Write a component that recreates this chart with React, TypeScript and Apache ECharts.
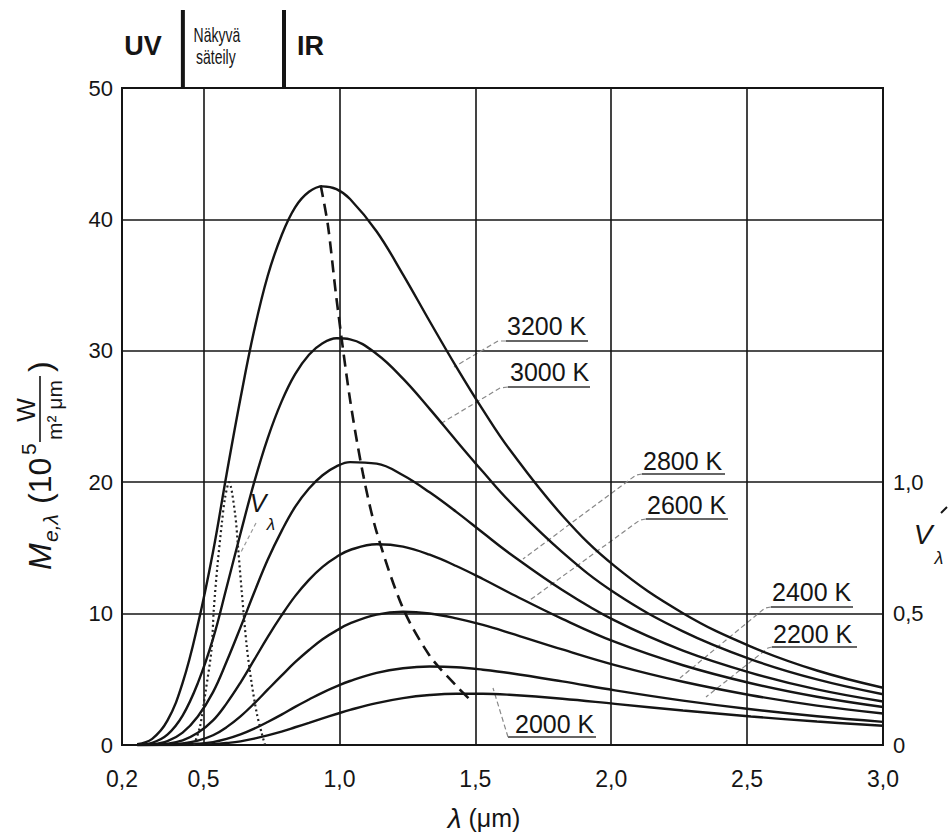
import React, { useEffect, useRef } from 'react';
import * as echarts from 'echarts';

const FONT = '"Liberation Sans", Arial, Helvetica, sans-serif';
const INK = '#151515';

// Wavelength samples (µm) shared by the Planck curves
const lambda = [0.256, 0.311, 0.367, 0.423, 0.479, 0.535, 0.585, 0.636, 0.686, 0.736, 0.787, 0.837, 0.888, 0.938, 0.989, 1.039, 1.137, 1.234, 1.332, 1.43, 1.528, 1.625, 1.82, 2.014, 2.264, 2.514, 2.757, 3.0];

// Spectral exitance M_e,λ (10^5 W/(m² µm))
const m3200 = [0.06, 0.47, 1.85, 4.72, 9.16, 14.71, 20.63, 26.39, 31.52, 35.69, 38.78, 40.92, 42.1, 42.51, 42.3, 41.55, 39.08, 35.8, 32.25, 28.78, 25.5, 22.52, 17.47, 13.59, 10.03, 7.49, 5.67, 4.36];
const m3000 = [0.02, 0.17, 0.79, 2.24, 4.71, 8.09, 12.01, 16.1, 19.97, 23.34, 26.13, 28.22, 29.7, 30.57, 30.95, 30.87, 29.76, 27.88, 25.58, 23.16, 20.79, 18.55, 14.68, 11.57, 8.65, 6.52, 4.99, 3.86];
const m2800 = [0, 0.05, 0.29, 0.94, 2.17, 4.02, 6.35, 8.95, 11.59, 14.1, 16.28, 18.12, 19.52, 20.53, 21.2, 21.53, 21.41, 20.53, 19.23, 17.74, 16.15, 14.6, 11.8, 9.46, 7.18, 5.49, 4.23, 3.31];
const m2600 = [0, 0.02, 0.1, 0.36, 0.93, 1.87, 3.17, 4.75, 6.47, 8.21, 9.86, 11.33, 12.57, 13.56, 14.31, 14.84, 15.28, 15.1, 14.48, 13.62, 12.63, 11.59, 9.6, 7.84, 6.07, 4.7, 3.67, 2.89];
const m2400 = [0, 0, 0.03, 0.11, 0.33, 0.74, 1.36, 2.18, 3.15, 4.21, 5.28, 6.3, 7.23, 8.05, 8.71, 9.25, 9.92, 10.14, 10.01, 9.64, 9.14, 8.54, 7.27, 6.08, 4.81, 3.79, 3.0, 2.4];
const m2200 = [0, 0, 0, 0.03, 0.09, 0.22, 0.46, 0.8, 1.24, 1.75, 2.31, 2.9, 3.46, 3.99, 4.46, 4.87, 5.49, 5.84, 5.97, 5.92, 5.73, 5.48, 4.84, 4.16, 3.38, 2.72, 2.19, 1.76];
const m2000 = [0, 0, 0, 0, 0.02, 0.06, 0.15, 0.28, 0.48, 0.73, 1.02, 1.35, 1.69, 2.03, 2.36, 2.67, 3.19, 3.57, 3.8, 3.9, 3.9, 3.82, 3.52, 3.13, 2.63, 2.17, 1.79, 1.46];

const temperatures = ['3200 K', '3000 K', '2800 K', '2600 K', '2400 K', '2200 K', '2000 K'];
const curves = [m3200, m3000, m2800, m2600, m2400, m2200, m2000];

// Locus of the maxima (Wien displacement), dashed
const wienLambda = [0.931, 0.958, 0.989, 1.039, 1.088, 1.137, 1.234, 1.332, 1.43, 1.488];
const wienM = [42.6, 39.5, 34.0, 26.3, 20.5, 16.2, 10.4, 6.8, 4.5, 3.3];

// Eye sensitivity V_λ (right axis), dotted
const vLambda = [0.465, 0.487, 0.507, 0.529, 0.538, 0.551, 0.567, 0.579, 0.594, 0.616, 0.628, 0.64, 0.659, 0.677, 0.696, 0.714, 0.726];
const vValues = [0, 0.07, 0.2, 0.36, 0.52, 0.68, 0.84, 0.94, 1.0, 0.88, 0.74, 0.59, 0.375, 0.235, 0.12, 0.045, 0];

// Axes
const xTickValues = [0.2, 0.5, 1.0, 1.5, 2.0, 2.5, 3.0];
const xGridValues = [0.5, 1.0, 1.5, 2.0, 2.5];
const rightTickMax = 1.0;
const bandEdges = [0.424, 0.796]; // UV | visible | IR

// Temperature annotations (layout only)
const tempLabels = [
  { text: '3200 K', x: 507, y: 326, ul: [506, 588, 341], leader: [[506, 341], [498, 341], [454, 367]] },
  { text: '3000 K', x: 510, y: 372, ul: [508, 590, 387], leader: [[508, 387], [500, 388], [440, 424]] },
  { text: '2800 K', x: 643, y: 461, ul: [642, 725, 474], leader: [[642, 474], [636, 475], [523, 559]] },
  { text: '2600 K', x: 647, y: 505, ul: [646, 728, 519], leader: [[646, 519], [640, 520], [530, 600]] },
  { text: '2400 K', x: 772, y: 592, ul: [771, 853, 607], leader: [[771, 607], [765, 608], [680, 678]] },
  { text: '2200 K', x: 773, y: 634, ul: [772, 857, 647], leader: [[772, 647], [768, 648], [706, 697]] },
  { text: '2000 K', x: 515, y: 724, ul: [508, 596, 737], leader: [[508, 737], [493, 688]] },
];

const commaFmt = (v: number) => (v === 0 ? '0' : v.toFixed(1).replace('.', ','));

function buildGraphics(xa: number, xb: number, top: number) {
  const g: any[] = [];
  // Top band separators
  [xa, xb].forEach((x) => {
    g.push({ type: 'line', shape: { x1: x, y1: 10, x2: x, y2: top }, style: { stroke: INK, lineWidth: 4 } });
  });
  g.push({ type: 'text', x: xa - 21, y: 46, style: { text: 'UV', fontSize: 27, fontWeight: 'bold', fontFamily: FONT, fill: INK, align: 'right', verticalAlign: 'middle' } });
  g.push({ type: 'text', x: xa + 34, y: 35, scaleX: 0.7, style: { text: 'Näkyvä', fontSize: 20, fontFamily: FONT, fill: INK, align: 'center', verticalAlign: 'middle' } });
  g.push({ type: 'text', x: xa + 33, y: 57, scaleX: 0.7, style: { text: 'säteily', fontSize: 20, fontFamily: FONT, fill: INK, align: 'center', verticalAlign: 'middle' } });
  g.push({ type: 'text', x: xb + 13, y: 46, style: { text: 'IR', fontSize: 27, fontWeight: 'bold', fontFamily: FONT, fill: INK, align: 'left', verticalAlign: 'middle' } });

  // Temperature labels
  tempLabels.forEach((l) => {
    g.push({ type: 'text', x: l.x, y: l.y, style: { text: l.text, fontSize: 25, fontFamily: FONT, fill: INK, align: 'left', verticalAlign: 'middle' } });
    g.push({ type: 'line', shape: { x1: l.ul[0], y1: l.ul[2], x2: l.ul[1], y2: l.ul[2] }, style: { stroke: '#333', lineWidth: 1.5 } });
    g.push({ type: 'polyline', shape: { points: l.leader }, style: { stroke: '#888', lineWidth: 1.2, lineDash: [5, 3], fill: null } });
  });

  // V_λ label inside the plot
  g.push({ type: 'text', x: 258, y: 503, style: { text: 'V', fontSize: 25, fontStyle: 'italic', fontFamily: FONT, fill: INK, align: 'center', verticalAlign: 'middle' } });
  g.push({ type: 'text', x: 271, y: 524, style: { text: 'λ', fontSize: 17, fontStyle: 'italic', fontFamily: FONT, fill: INK, align: 'center', verticalAlign: 'middle' } });
  g.push({ type: 'line', shape: { x1: 256, y1: 523, x2: 241, y2: 552 }, style: { stroke: '#999', lineWidth: 1.2, lineDash: [4, 3] } });

  // Right axis title V_λ
  g.push({ type: 'text', x: 923, y: 534, style: { text: 'V', fontSize: 28, fontStyle: 'italic', fontFamily: FONT, fill: INK, align: 'center', verticalAlign: 'middle' } });
  g.push({ type: 'text', x: 939, y: 558, style: { text: 'λ', fontSize: 18, fontStyle: 'italic', fontFamily: FONT, fill: INK, align: 'center', verticalAlign: 'middle' } });
  g.push({ type: 'line', shape: { x1: 941, y1: 513, x2: 947, y2: 507 }, style: { stroke: INK, lineWidth: 2 } });

  // X axis title
  g.push({
    type: 'text', x: 484, y: 818,
    style: {
      text: '{i|λ} (μm)', fontSize: 25, fontFamily: FONT, fill: INK, align: 'center', verticalAlign: 'middle',
      rich: { i: { fontSize: 28, fontStyle: 'italic', fontFamily: FONT, fill: INK } },
    },
  });

  // Y axis title (rotated, reads bottom to top)
  const t = (text: string, x: number, y: number, fontSize: number, extra: any = {}) => ({
    type: 'text', x, y,
    style: { text, fontSize, fontFamily: FONT, fill: INK, align: 'left', verticalAlign: 'middle', ...extra },
  });
  g.push({
    type: 'group', x: 40, y: 458, rotation: Math.PI / 2,
    children: [
      t('M', -112, 0, 32, { fontStyle: 'italic' }),
      t('e,λ', -84, 10, 21, { fontStyle: 'italic' }),
      t('(10', -46, 0, 32),
      t('5', 3, -12, 21),
      t('W', 48, -14, 25, { align: 'center' }),
      { type: 'line', shape: { x1: 16, y1: 0, x2: 82, y2: 0 }, style: { stroke: INK, lineWidth: 1.6 } },
      t('m² μm', 48, 14, 21, { align: 'center' }),
      t(')', 86, 0, 32),
    ],
  });
  return g;
}

export default function App() {
  const ref = useRef<HTMLDivElement>(null);
  useEffect(() => {
    document.body.style.margin = '0';
    const chart = echarts.init(ref.current!, null, { renderer: 'svg' });
    const axisLineStyle = { color: INK, width: 2 };
    const labelStyle = { fontSize: 22, color: INK, fontFamily: FONT };

    const series: any[] = curves.map((vals, i) => ({
      type: 'line',
      name: temperatures[i],
      data: lambda.map((l, j) => [l, vals[j]]),
      symbol: 'none',
      smooth: 0.4,
      lineStyle: { color: INK, width: 2.4 },
      silent: true,
      z: 4,
    }));
    series.push({
      type: 'line',
      name: 'λmax',
      data: wienLambda.map((l, j) => [l, wienM[j]]),
      symbol: 'none',
      smooth: 0.3,
      lineStyle: { color: INK, width: 2.6, type: [12, 7] },
      silent: true,
      z: 5,
      markLine: {
        silent: true,
        symbol: ['none', 'none'],
        label: { show: false },
        lineStyle: { color: INK, width: 1.6, type: 'solid' },
        data: xGridValues.map((v) => ({ xAxis: v })),
        z: 1,
      },
    });
    series.push({
      type: 'line',
      name: 'V_λ',
      yAxisIndex: 1,
      data: vLambda.map((l, j) => [l, vValues[j]]),
      symbol: 'none',
      smooth: 0.3,
      lineStyle: { color: '#222', width: 2.2, type: [2, 3] },
      silent: true,
      z: 5,
    });

    chart.setOption({
      animation: false,
      backgroundColor: '#fff',
      grid: { left: 122, right: 66, top: 88, bottom: 91, show: true, borderColor: INK, borderWidth: 2 },
      xAxis: {
        type: 'value', min: 0.2, max: 3.0,
        axisLine: { show: true, lineStyle: axisLineStyle },
        axisTick: { show: false, customValues: xTickValues },
        splitLine: { show: false },
        axisLabel: { ...labelStyle, fontSize: 23, margin: 22, customValues: xTickValues, showMinLabel: true, showMaxLabel: true, formatter: (v: number) => v.toFixed(1).replace('.', ',') },
      },
      yAxis: [
        {
          type: 'value', min: 0, max: 50, interval: 10,
          axisLine: { show: true, lineStyle: axisLineStyle },
          axisTick: { show: false },
          splitLine: { show: true, lineStyle: { color: INK, width: 1.6 } },
          axisLabel: { ...labelStyle, margin: 9 },
        },
        {
          type: 'value', min: 0, max: 2.5, interval: 0.5, position: 'right',
          axisLine: { show: true, lineStyle: axisLineStyle },
          axisTick: { show: false },
          splitLine: { show: false },
          axisLabel: { ...labelStyle, margin: 10, formatter: (v: number) => (v > rightTickMax + 1e-6 ? '' : commaFmt(v)) },
        },
      ],
      series,
    });

    const xa = chart.convertToPixel({ xAxisIndex: 0 }, bandEdges[0]) as number;
    const xb = chart.convertToPixel({ xAxisIndex: 0 }, bandEdges[1]) as number;
    const top = chart.convertToPixel({ yAxisIndex: 0 }, 50) as number;
    chart.setOption({ graphic: buildGraphics(xa, xb, top) });

    return () => chart.dispose();
  }, []);
  return <div ref={ref} style={{ width: 949, height: 836 }} />;
}
